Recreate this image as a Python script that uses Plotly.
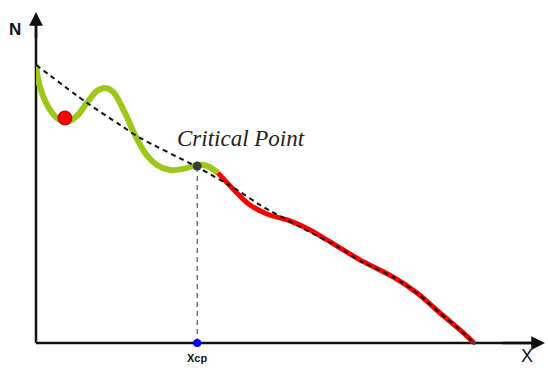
import plotly.graph_objects as go

# Curve data (x, N)
green_x = [0.0, 0.09, 0.32, 0.50, 0.71, 0.94, 1.16, 1.39, 1.58, 1.76, 2.03, 2.26, 2.49, 2.76, 3.06, 3.36, 3.68, 3.90, 4.155]
green_y = [10.0, 9.21, 8.38, 8.06, 7.95, 8.17, 8.63, 9.06, 9.17, 9.03, 8.27, 7.48, 6.83, 6.40, 6.22, 6.26, 6.40, 6.37, 6.115]
red_x = [4.155, 4.498, 4.886, 5.274, 5.799, 6.256, 6.644, 7.055, 7.397, 8.151, 8.699, 9.224, 9.680, 10.0]
red_y = [6.115, 5.540, 4.964, 4.640, 4.388, 4.065, 3.705, 3.309, 2.986, 2.374, 1.799, 1.079, 0.468, 0.0]
trend_x = [0.0, 1.164, 1.918, 2.374, 3.676, 4.589, 5.114, 6.027, 6.941, 7.397, 8.151, 8.699, 9.224, 9.680, 10.0]
trend_y = [10.0, 8.633, 7.842, 7.374, 6.331, 5.504, 4.964, 4.173, 3.417, 2.950, 2.374, 1.799, 1.079, 0.468, 0.0]
x_cp = 3.68
y_cp = 6.36
ball_x = [0.66]
ball_y = [8.09]

X_MAX = 11.62
Y_MAX = 11.9

fig = go.Figure()
# axis lines beneath marks (paper-referenced so they are not clipped)
fig.add_shape(type="line", xref="paper", yref="paper", x0=0, y0=0, x1=0.98, y1=0,
              line=dict(color="#111111", width=2.5), layer="below")
fig.add_shape(type="line", xref="paper", yref="paper", x0=0, y0=0, x1=0, y1=0.98,
              line=dict(color="#111111", width=2.5), layer="below")

fig.add_trace(go.Scatter(x=green_x, y=green_y, mode="lines",
                         line=dict(color="#9ec71a", width=6, shape="spline", smoothing=1.0)))
fig.add_trace(go.Scatter(x=red_x, y=red_y, mode="lines",
                         line=dict(color="#ff0000", width=5, shape="spline", smoothing=1.0)))
fig.add_trace(go.Scatter(x=trend_x, y=trend_y, mode="lines",
                         line=dict(color="#111111", width=2, dash="5px,4px", shape="spline", smoothing=0.8)))
fig.add_trace(go.Scatter(x=[x_cp, x_cp], y=[0, y_cp], mode="lines",
                         line=dict(color="#333333", width=1, dash="5px,4px")))
fig.add_trace(go.Scatter(x=ball_x, y=ball_y, mode="markers",
                         marker=dict(color="#ff0000", size=14, line=dict(color="#990000", width=1))))
fig.add_trace(go.Scatter(x=[x_cp], y=[y_cp], mode="markers",
                         marker=dict(color="#3a3a3a", size=9)))
fig.add_trace(go.Scatter(x=[10.0], y=[0], mode="markers",
                         marker=dict(color="#444444", size=4), cliponaxis=False))
fig.add_trace(go.Scatter(x=[x_cp], y=[0], mode="markers",
                         marker=dict(color="#0000ff", size=8), cliponaxis=False))

# arrow heads at the axis tips
fig.add_annotation(x=0, y=Y_MAX, ax=0, ay=Y_MAX - 1.0, xref="x", yref="y", axref="x", ayref="y",
                   text="", showarrow=True, arrowhead=2, arrowsize=1.1, arrowwidth=2.5, arrowcolor="#111111")
fig.add_annotation(x=X_MAX, y=0, ax=X_MAX - 1.0, ay=0, xref="x", yref="y", axref="x", ayref="y",
                   text="", showarrow=True, arrowhead=2, arrowsize=1.1, arrowwidth=2.5, arrowcolor="#111111")

fig.add_annotation(x=4.68, y=7.37, xref="x", yref="y", text="<i>Critical Point</i>",
                   showarrow=False, font=dict(family="Liberation Serif", size=23, color="#222222"))
fig.add_annotation(x=-0.041, y=0.946, xref="paper", yref="paper", text="<b>N</b>", showarrow=False,
                   xanchor="center", yanchor="middle",
                   font=dict(family="Liberation Sans", size=17, color="#111111"))
fig.add_annotation(x=0.965, y=-0.039, xref="paper", yref="paper", text="X", showarrow=False,
                   xanchor="center", yanchor="middle",
                   font=dict(family="Liberation Sans", size=18, color="#111111"))
fig.add_annotation(x=0.316, y=-0.045, xref="paper", yref="paper", text="<b>Xcp</b>", showarrow=False,
                   xanchor="center", yanchor="middle",
                   font=dict(family="Liberation Sans", size=11, color="#111111"))

fig.update_layout(width=548, height=368, margin=dict(l=36, r=3, t=12, b=25, autoexpand=False),
                  plot_bgcolor="white", paper_bgcolor="white", showlegend=False, hovermode=False)
fig.update_xaxes(range=[0, X_MAX], visible=False)
fig.update_yaxes(range=[0, Y_MAX], visible=False)

fig.write_html("out.html", config={"displayModeBar": False},
               post_script="document.body.style.margin='0';")
